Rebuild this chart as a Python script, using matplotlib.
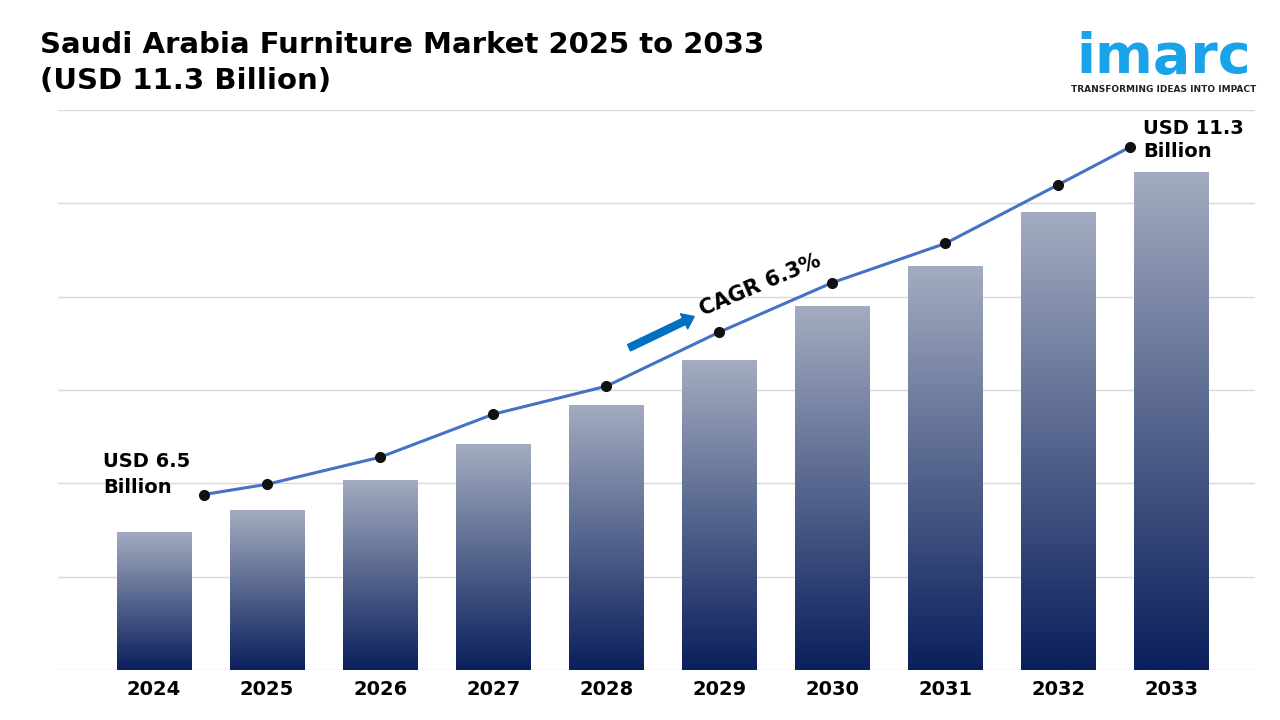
import numpy as np
import matplotlib.pyplot as plt
from matplotlib.colors import LinearSegmentedColormap

years = ["2024", "2025", "2026", "2027", "2028", "2029", "2030", "2031", "2032", "2033"]
bar_values = [1.48, 1.71, 2.04, 2.42, 2.84, 3.32, 3.90, 4.33, 4.91, 5.34]
line_values = [1.88, 1.99, 2.28, 2.74, 3.04, 3.62, 4.15, 4.57, 5.20, 5.60]

fig = plt.figure(figsize=(12.8, 7.2), dpi=100)
ax = fig.add_axes([58/1280, 50/720, (1255-58)/1280, 560/720])
x = np.arange(len(years))

cmap = LinearSegmentedColormap.from_list("g", ["#0a1f5c", "#a3acc0"])
grad = np.linspace(0, 1, 256).reshape(-1, 1)
w = 0.66
for xi, h in zip(x, bar_values):
    bar = ax.bar(xi, h, width=w, color="none", zorder=2)[0]
    im = ax.imshow(grad, cmap=cmap, aspect="auto", origin="lower",
                   extent=[xi - w/2, xi + w/2, 0, h], zorder=2)
    im.set_clip_path(bar)
ax.set_xlim(-0.85, 9.74)
ax.set_ylim(0, 6)

# line markers sit over bar centres except the two end points
offs = np.zeros(len(years))
offs[0], offs[-1] = 0.44, -0.37
ax.plot(x + offs, line_values, color="#4472c4", lw=2.2, zorder=3)
ax.plot(x + offs, line_values, "o", color="#111111", ms=7, zorder=4)

ax.set_yticks(range(7))
ax.yaxis.grid(True, color="#d9d9d9", lw=1)
ax.set_axisbelow(True)
ax.tick_params(left=False, labelleft=False, bottom=False)
ax.set_xticks(x)
ax.set_xticklabels(years, fontsize=14, fontweight="bold")
for s in ax.spines.values():
    s.set_visible(False)

ax.text(-0.45, 1.85, "USD 6.5\nBillion", fontsize=14, fontweight="bold",
        ha="left", va="bottom", linespacing=1.5)
ax.text(8.75, 5.45, "USD 11.3\nBillion", fontsize=14, fontweight="bold",
        ha="left", va="bottom", linespacing=1.3)
ax.annotate("", xy=(4.8, 3.8), xytext=(4.18, 3.44),
            arrowprops=dict(arrowstyle="simple,head_width=1.2,head_length=0.8,tail_width=0.5",
                            color="#0070c0"))
ax.text(4.8, 3.75, "CAGR 6.3%", fontsize=15, fontweight="bold", rotation=23,
        ha="left", va="bottom")

fig.text(40/1280, 1 - 63/720, "Saudi Arabia Furniture Market 2025 to 2033\n(USD 11.3 Billion)",
         fontsize=21, fontweight="bold", va="center", ha="left", linespacing=1.35)
fig.text(1164/1280, 1 - 58/720, "imarc", fontsize=40, color="#1aa3e8",
         fontweight="bold", ha="center", va="center")
fig.text(1164/1280, 1 - 89/720, "TRANSFORMING IDEAS INTO IMPACT", fontsize=6.5,
         fontweight="bold", ha="center", va="center", color="#222222")

fig.savefig("out.png", dpi=100)
